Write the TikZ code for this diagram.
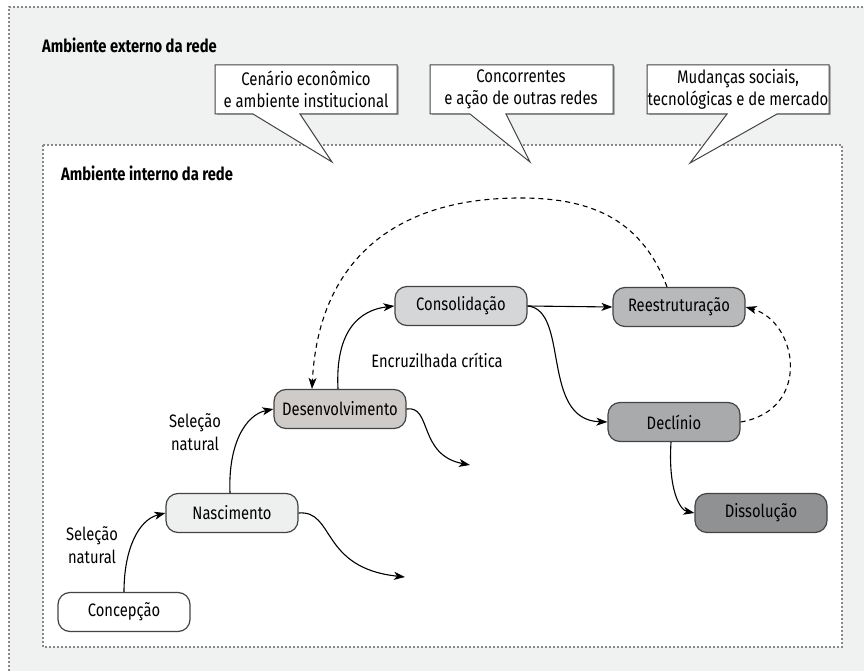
\documentclass[tikz,border=0pt]{standalone}
\usepackage{fontspec}
\setmainfont[FakeStretch=0.82]{Fira Sans}
\usetikzlibrary{arrows.meta}
\definecolor{bgout}{HTML}{F0F1F1}
\definecolor{cnasc}{HTML}{EEEFEF}
\definecolor{cdesv}{HTML}{CFCBC9}
\definecolor{ccons}{HTML}{D5D6D7}
\definecolor{crees}{HTML}{B7B9BB}
\definecolor{cdecl}{HTML}{A8AAAC}
\definecolor{cdiss}{HTML}{8F9193}
\definecolor{borderc}{HTML}{444444}
\definecolor{dotc}{HTML}{888888}
\begin{document}
\begin{tikzpicture}[x=1pt,y=-1pt,
  stage/.style={draw=borderc, line width=1.2pt, rounded corners=12pt,
    minimum width=132pt, minimum height=39pt, inner sep=0pt,
    font=\fontsize{18}{21}\selectfont},
  flow/.style={line width=1.1pt, draw=black, -{Stealth[length=11pt,width=8pt,inset=3pt]}},
  backflow/.style={flow, dash pattern=on 5pt off 4pt},
  lbl/.style={align=center, font=\fontsize{18}{23}\selectfont, inner sep=0pt},
  ctext/.style={align=center, font=\fontsize{18.2}{22}\selectfont, inner sep=0pt},
  callout/.style={fill=white, draw=borderc, line width=1pt, line join=miter},
  title/.style={font=\bfseries\fontsize{18}{21}\selectfont, anchor=west, inner sep=0pt},
  dotbox/.style={draw=dotc, line width=1.6pt, dash pattern=on 1.6pt off 2.4pt}
]
\useasboundingbox (0,0) rectangle (864,671);
\fill[white] (0,0) rectangle (864,671);
\fill[bgout] (9,7) rectangle (864,671);
\draw[dotbox] (9,671) -- (9,7) -- (864,7);

% outer title
\node[title] (ext) at (42,45) {Ambiente externo da rede};

% inner box
\fill[white] (43,145) rectangle (842,647);
\draw[dotbox] (43,145) rectangle (842,647);
\node[title] (int) at (61,173) {Ambiente interno da rede};

% callouts
\fill[black!30] (216.5,66.5) rectangle (398.5,115.5);
\draw[callout] (215,65) -- (397,65) -- (397,114) -- (300,114) -- (332,162) -- (253,114) -- (215,114) -- cycle;
\node[ctext] (c1) at (306,89) {Cenário econômico\\e ambiente institucional};

\fill[black!30] (431.5,66.5) rectangle (614.5,115.5);
\draw[callout] (430,65) -- (613,65) -- (613,114) -- (506,114) -- (530,162) -- (470,114) -- (430,114) -- cycle;
\node[ctext] (c2) at (521,89) {Concorrentes\\e ação de outras redes};

\fill[black!30] (648.5,66.5) rectangle (830.5,115.5);
\draw[callout] (647,65) -- (829,65) -- (829,114) -- (777,114) -- (690,163) -- (727,114) -- (647,114) -- cycle;
\node[ctext] (c3) at (738,89) {Mudanças sociais,\\tecnológicas e de mercado};

% stages
\node[stage, fill=white] (conc) at (124,612) {Concepção};
\node[stage, fill=cnasc] (nasc) at (232,513) {Nascimento};
\node[stage, fill=cdesv] (desv) at (340,409) {Desenvolvimento};
\node[stage, fill=ccons] (cons) at (461,306) {Consolidação};
\node[stage, fill=crees] (rees) at (679,307) {Reestruturação};
\node[stage, fill=cdecl] (decl) at (674,422) {Declínio};
\node[stage, fill=cdiss] (diss) at (761,513) {Dissolução};

% labels
\node[lbl] (s1) at (92,545) {Seleção\\natural};
\node[lbl] (s2) at (195,432) {Seleção\\natural};
\node[lbl] (enc) at (437,360) {Encruzilhada crítica};

% free ends
\coordinate (dvend) at (470,465);
\coordinate (nsend) at (405,577);

% flows
\draw[flow] (conc.north) .. controls (124,550) and (138,520) .. (nasc.west);
\draw[flow] ([xshift=-2pt]nasc.north) .. controls (228,445) and (245,415) .. (desv.west);
\draw[flow] ([xshift=-2pt]desv.north) .. controls (335,330) and (360,310) .. (cons.west);
\draw[flow] (cons.east) -- (rees.west);
\draw[flow] (cons.east) .. controls (570,310) and (540,420) .. (decl.west);
\draw[flow] ([xshift=-3pt]decl.south) .. controls (668,490) and (680,510) .. (diss.west);
\draw[flow] (desv.east) .. controls (432,405) and (418,455) .. (dvend);
\draw[flow] (nasc.east) .. controls (335,510) and (320,568) .. (nsend);

% dashed feedback
\draw[backflow] (decl.east) .. controls (812,410) and (798,322) .. (rees.east);
\draw[backflow] ([xshift=-12pt]rees.north) .. controls (640,215) and (585,198) .. (520,198)
   .. controls (390,198) and (318,265) .. ([xshift=-28pt]desv.north);
\end{tikzpicture}
\end{document}
